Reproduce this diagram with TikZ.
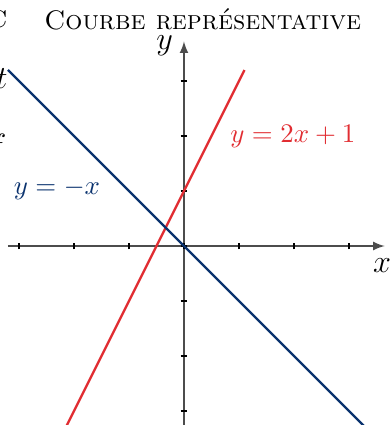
\documentclass[tikz,border=0pt]{standalone}
\usetikzlibrary{arrows}

\definecolor{rougeC}{RGB}{225,45,50}
\definecolor{bleuC}{RGB}{10,50,110}

\tikzset{
  axe/.style={draw=black!70,line width=0.5pt,-latex},
  graduation/.style={black,line width=0.9pt},
  courbe/.style={line width=0.9pt}
}

\begin{document}
\begin{tikzpicture}[x=0.72cm,y=0.72cm]

\useasboundingbox
(-3.345,-3.2545)
rectangle
(3.782,4.473);

% Textes coupés
\node[anchor=east,inner sep=0pt,font=\large] (bordC) at (-3.2,4.12) {\textsc{c}};
\node[anchor=east,inner sep=0pt,font=\large] (bordT) at (-3.2,3.05) {$t$};
\node[anchor=east,inner sep=0pt,font=\large] (bordF) at (-3.22,1.78) {$f$};

% Titre
\node (titre) at (0.34,4.12) {\textsc{Courbe représentative}};

% Axes
\draw[axe]
(-3.2,0)
--
(3.65,0)
coordinate (finX);

\draw[axe]
(0,-3.3)
--
(0,3.72)
coordinate (finY);

\node[font=\large] (nomX) at (3.6,-0.36) {$x$};
\node[font=\large] (nomY) at (-0.35,3.64) {$y$};

% Graduations
\foreach \k in {-3,...,3}
{
    \draw[graduation] (\k,-0.06) -- (\k,0.06);
    \draw[graduation] (-0.06,\k) -- (0.06,\k);
}

% Droites
\draw[courbe,rougeC]
(-2.15,-3.3)
--
(1.1,3.2);

\draw[courbe,bleuC]
(-3.2,3.2)
--
(3.3,-3.3);

\node[rougeC] (eqRouge) at (1.98,2.0) {$y=2x+1$};
\node[bleuC] (eqBleu) at (-2.31,1.04) {$y=-x$};

\end{tikzpicture}
\end{document}
